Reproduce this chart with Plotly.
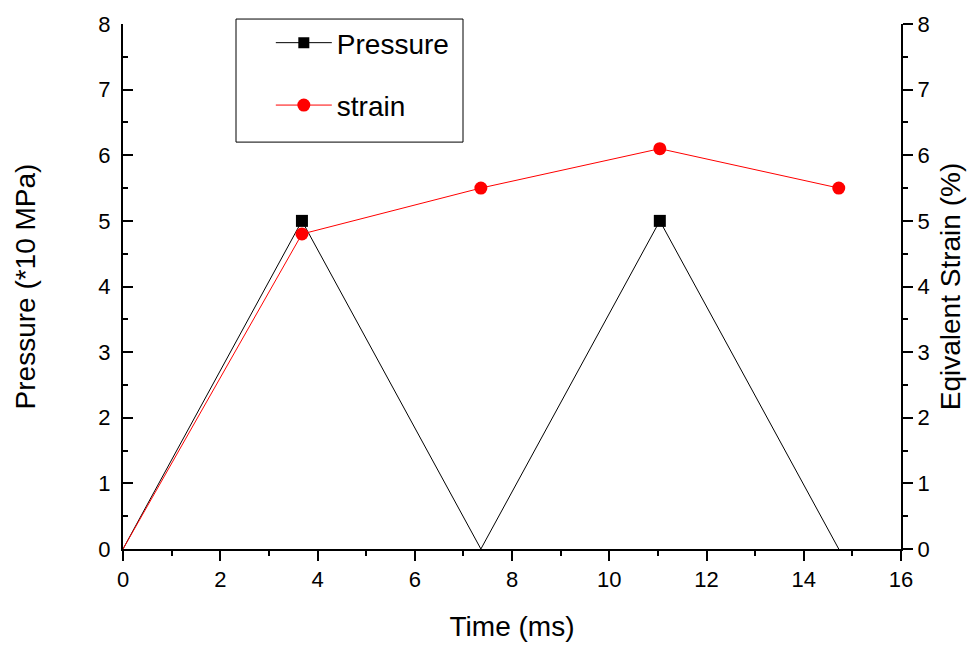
import plotly.graph_objects as go

time_ms = [0, 3.68, 7.36, 11.04, 14.72]
pressure = [0, 5, 0, 5, 0]
strain = [0, 4.8, 5.5, 6.1, 5.5]

x_ticks = [0, 2, 4, 6, 8, 10, 12, 14, 16]
y_ticks = [0, 1, 2, 3, 4, 5, 6, 7, 8]

FONT = "Arial, Liberation Sans, sans-serif"
TICK_SIZE = 22
TITLE_SIZE = 28

fig = go.Figure()

# data lines (all points)
fig.add_trace(go.Scatter(
    x=time_ms, y=pressure, mode="lines", showlegend=False,
    line=dict(color="black", width=1), hoverinfo="skip",
))
fig.add_trace(go.Scatter(
    x=time_ms, y=strain, mode="lines", yaxis="y2", showlegend=False,
    line=dict(color="red", width=1), hoverinfo="skip",
))
# markers only where the series is non-zero
pk = [i for i, v in enumerate(pressure) if v > 0]
sk = [i for i, v in enumerate(strain) if v > 0]
fig.add_trace(go.Scatter(
    x=[time_ms[i] for i in pk], y=[pressure[i] for i in pk], mode="markers",
    showlegend=False, name="Pressure",
    marker=dict(symbol="square", color="black", size=12, opacity=1,
                line=dict(width=0)),
))
fig.add_trace(go.Scatter(
    x=[time_ms[i] for i in sk], y=[strain[i] for i in sk], mode="markers",
    yaxis="y2", showlegend=False, name="strain",
    marker=dict(symbol="circle", color="red", size=13, opacity=1,
                line=dict(width=0)),
))
# legend entries
fig.add_trace(go.Scatter(
    x=[None], y=[None], mode="lines+markers", name="Pressure", legendgroup="p",
    line=dict(color="black", width=1),
    marker=dict(symbol="square", color="black", size=11, opacity=1),
))
fig.add_trace(go.Scatter(
    x=[None], y=[None], mode="lines+markers", name="strain", legendgroup="s",
    yaxis="y2",
    line=dict(color="red", width=1),
    marker=dict(symbol="circle", color="red", size=13, opacity=1),
))

axis_common = dict(showgrid=False, zeroline=False, showline=True,
                   linecolor="black", linewidth=2, tickcolor="black",
                   tickwidth=2, tickfont=dict(family=FONT, size=TICK_SIZE, color="black"))

fig.update_layout(
    width=973, height=650,
    margin=dict(l=123, r=72, t=20, b=101),
    paper_bgcolor="white", plot_bgcolor="white",
    font=dict(family=FONT, color="black"),
    xaxis=dict(range=[0, 16], tickvals=x_ticks, ticks="outside", ticklen=10,
               minor=dict(ticks="outside", ticklen=5, dtick=1, tickcolor="black", tickwidth=2),
               title=dict(text="Time (ms)", font=dict(family=FONT, size=TITLE_SIZE), standoff=25),
               **axis_common),
    yaxis=dict(range=[0, 8], tickvals=y_ticks, ticks="inside", ticklen=10,
               minor=dict(ticks="inside", ticklen=5, dtick=0.5, tickcolor="black", tickwidth=2),
               ticklabelstandoff=6,
               title=dict(text="Pressure (*10 MPa)", font=dict(family=FONT, size=TITLE_SIZE), standoff=55),
               **axis_common),
    yaxis2=dict(range=[0, 8], tickvals=y_ticks, ticks="outside", ticklen=10,
                overlaying="y", side="right",
                minor=dict(ticks="outside", ticklen=5, dtick=0.5, tickcolor="black", tickwidth=2),
                title=dict(text="Eqivalent Strain (%)", font=dict(family=FONT, size=TITLE_SIZE), standoff=12),
                **axis_common),
    legend=dict(x=0.19, y=1.0115, xanchor="left", yanchor="top",
                bgcolor="rgba(0,0,0,0)", borderwidth=0,
                itemwidth=56, tracegroupgap=23,
                traceorder="grouped",
                font=dict(family=FONT, size=TITLE_SIZE, color="black")),
    showlegend=True,
)

# legend frame
fig.add_shape(type="rect", xref="paper", yref="paper",
              x0=(236 - 123) / 778, x1=(463 - 123) / 778,
              y0=(549 - 139) / 529, y1=(549 - 15) / 529,
              line=dict(color="black", width=1), fillcolor="rgba(0,0,0,0)")

fig.write_html("out.html")
